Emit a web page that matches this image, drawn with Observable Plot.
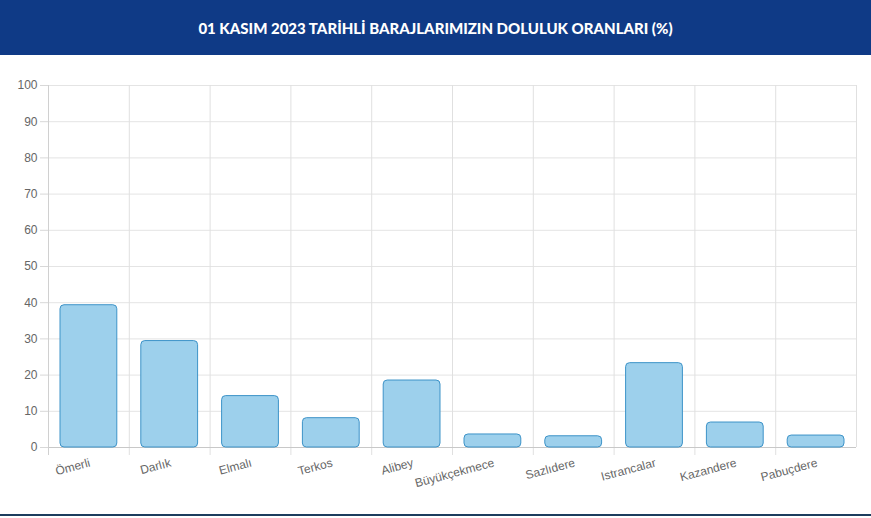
<!DOCTYPE html>
<html>
<head>
<meta charset="utf-8">
<script src="https://cdn.jsdelivr.net/npm/d3@7"></script>
<script src="https://cdn.jsdelivr.net/npm/@observablehq/plot@0.6"></script>
<style>
  html, body { margin: 0; padding: 0; background: #fff; }
  body { width: 871px; height: 518px; position: relative; overflow: hidden; }
  #header {
    height: 55px; background: #0f3a86; color: #fff;
    font-family: Lato, "Open Sans", sans-serif; font-weight: 900; font-size: 15px;
    display: flex; align-items: center; justify-content: center; letter-spacing: 0px;
  }
  #chart { position: absolute; top: 55px; left: 0; }
  #footer { position: absolute; left: 0; top: 514px; width: 871px; height: 2px; background: #1c3d5e; }
</style>
</head>
<body>
<div id="header">01 KASIM 2023 TARİHLİ BARAJLARIMIZIN DOLULUK ORANLARI (%)</div>
<div id="chart"></div>
<div id="footer"></div>
<script>
const categories = ["Ömerli", "Darlık", "Elmalı", "Terkos", "Alibey", "Büyükçekmece", "Sazlıdere", "Istrancalar", "Kazandere", "Pabuçdere"];
const values = [39.3, 29.4, 14.2, 8.1, 18.5, 3.6, 3.1, 23.3, 6.9, 3.3];
const yTicks = [0, 10, 20, 30, 40, 50, 60, 70, 80, 90, 100];

const data = categories.map((name, i) => ({name, value: values[i]}));

const width = 871, height = 458;
const marginLeft = 48, marginRight = 15, marginTop = 30, marginBottom = 66;
const step = (width - marginLeft - marginRight) / categories.length;

const chart = Plot.plot({
  width, height, marginLeft, marginRight, marginTop, marginBottom,
  style: {fontFamily: "Liberation Sans, Arial, sans-serif", fontSize: "12px", color: "#666", background: "transparent"},
  x: {domain: categories, padding: 0, round: false, label: null},
  y: {domain: [0, 100], label: null},
  marks: [
    Plot.ruleY(yTicks, {y: d => d, stroke: "#e4e4e4", strokeOpacity: 1}),
    Plot.ruleX(categories, {x: d => d, dx: -step / 2, y1: 100, y2: 0, insetBottom: -8, stroke: "#e0e0e0"}),
    Plot.ruleX(categories.slice(-1), {x: d => d, dx: step / 2, y1: 100, y2: 0, stroke: "#e0e0e0"}),
    Plot.ruleY([0], {stroke: "#c8c8c8"}),
    Plot.ruleX([categories[0]], {x: d => d, dx: -step / 2, y1: 100, y2: 0, insetBottom: -8, stroke: "#d0d0d0"}),
    Plot.barY(data, {x: "name", y: "value", fill: "#9dd0ec", stroke: "#3d93c8", strokeWidth: 1, insetLeft: 12, insetRight: 12, rx: 4}),
    Plot.axisY({ticks: yTicks, tickSize: 8, tickPadding: 3, stroke: "#d8d8d8", fill: "#666", label: null}),
    Plot.axisX({tickSize: 0, tickRotate: -15, tickPadding: 15, dx: 1, fill: "#666", label: null})
  ]
});
document.getElementById("chart").appendChild(chart);
</script>
</body>
</html>
